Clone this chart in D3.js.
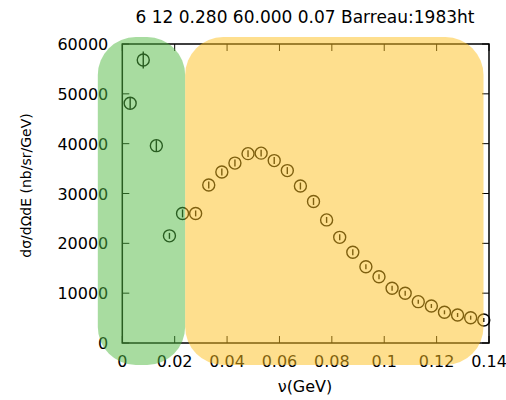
<!DOCTYPE html>
<html><head><meta charset="utf-8">
<script src="https://cdn.jsdelivr.net/npm/d3@7"></script>
<style>body{margin:0;background:#fff}svg{display:block}text{font-family:"DejaVu Sans",sans-serif}</style>
</head><body>
<svg id="c" width="506" height="400"></svg>
<script>
const title = "6 12 0.280 60.000 0.07 Barreau:1983ht";
const xLabel = "ν(GeV)";
const yLabel = "dσ/dΩdE (nb/sr/GeV)";
const nu = [0.003,0.008,0.013,0.018,0.023,0.028,0.033,0.038,0.043,0.048,0.053,0.058,0.063,0.068,0.073,0.078,0.083,0.088,0.093,0.098,0.103,0.108,0.113,0.118,0.123,0.128,0.133,0.138];
const sigma = [48100,56800,39600,21500,26000,26000,31700,34300,36100,38000,38100,36600,34600,31500,28400,24700,21200,18200,15300,13300,11000,9970,8300,7430,6160,5620,5080,4620];
const err = [1100,1700,1100,600,800,600,700,700,700,700,700,700,700,700,700,600,600,600,500,500,500,500,400,400,400,400,400,400];
const xTicks = [0,0.02,0.04,0.06,0.08,0.1,0.12,0.14];
const xTickLabels = ["0","0.02","0.04","0.06","0.08","0.1","0.12","0.14"];
const yTicks = [0,10000,20000,30000,40000,50000,60000];
const regions = [{x0:-0.00935, x1:0.02399, color:"rgb(81,185,65)"},{x0:0.0240, x1:0.1379, color:"rgb(253,191,29)"}];

const svg = d3.select("#c");
const L=122.3, R=489, T=44, B=343;
const x = d3.scaleLinear().domain([0,0.14]).range([L,R]);
const y = d3.scaleLinear().domain([0,60000]).range([B,T]);

svg.append("text").attr("x",305).attr("y",23).attr("text-anchor","middle").attr("font-size",17).text(title);

const tk=7;
const g = svg.append("g");
xTicks.forEach((v,i)=>{
  g.append("line").attr("x1",x(v)).attr("x2",x(v)).attr("y1",B).attr("y2",B-tk).attr("stroke","#000");
  g.append("line").attr("x1",x(v)).attr("x2",x(v)).attr("y1",T).attr("y2",T+tk).attr("stroke","#000");
  g.append("text").attr("x",x(v)).attr("y",367).attr("text-anchor","middle").attr("font-size",16).text(xTickLabels[i]);
});
yTicks.forEach(v=>{
  g.append("line").attr("x1",L).attr("x2",L+tk).attr("y1",y(v)).attr("y2",y(v)).attr("stroke","#000");
  g.append("line").attr("x1",R).attr("x2",R-tk).attr("y1",y(v)).attr("y2",y(v)).attr("stroke","#000");
  g.append("text").attr("x",L-14).attr("y",y(v)+6).attr("text-anchor","end").attr("font-size",16).text(d3.format("d")(v));
});
g.append("rect").attr("x",L).attr("y",T).attr("width",R-L).attr("height",B-T).attr("fill","none").attr("stroke","#000").attr("stroke-width",1.5);

svg.append("text").attr("transform",`translate(31,185.5) rotate(-90)`).attr("text-anchor","middle").attr("font-size",14).text(yLabel);
svg.append("text").attr("x",305).attr("y",392).attr("text-anchor","middle").attr("font-size",16).text(xLabel);

const pts = svg.append("g").attr("stroke","#000").attr("fill","none").attr("stroke-width",1.4);
nu.forEach((v,i)=>{
  pts.append("line").attr("x1",x(v)).attr("x2",x(v)).attr("y1",y(sigma[i]-err[i])).attr("y2",y(sigma[i]+err[i]));
  pts.append("circle").attr("cx",x(v)).attr("cy",y(sigma[i])).attr("r",6);
});

regions.forEach(r=>{
  svg.append("rect").attr("x",x(r.x0)).attr("y",37).attr("width",x(r.x1)-x(r.x0)).attr("height",365-37)
    .attr("rx",38).attr("ry",38).attr("fill",r.color).attr("fill-opacity",0.5);
});
</script>
</body></html>
